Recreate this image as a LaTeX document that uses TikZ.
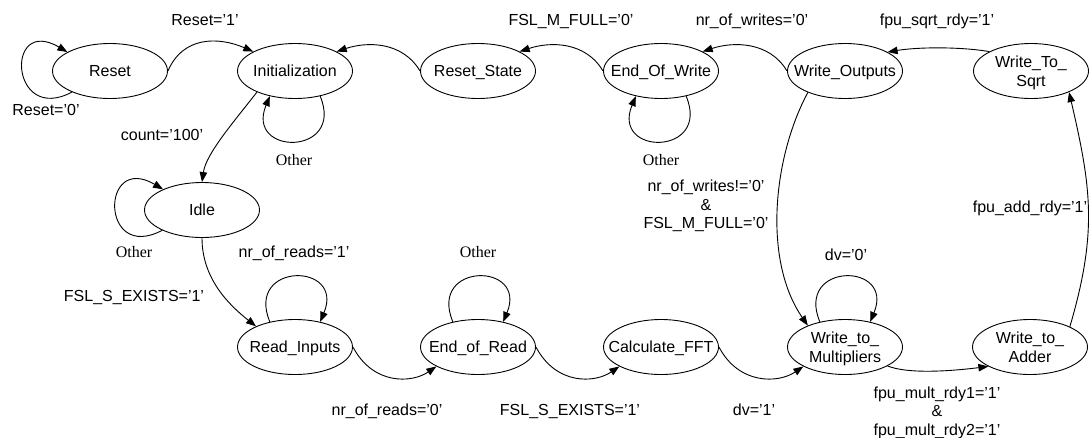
\documentclass[tikz,border=0pt]{standalone}
\usepackage{fontspec}
\setmainfont{Liberation Sans}
\newfontfamily\othfont{Liberation Serif}
\usetikzlibrary{shapes.geometric,arrows.meta}
\newcommand\stx[1]{\makebox[0pt]{\raisebox{-5.7pt}[0pt][0pt]{#1}}}
\newcommand\sttwo[2]{\makebox[0pt]{\raisebox{3.7pt}[0pt][0pt]{\begin{tabular}[t]{@{}c@{}}#1\\#2\end{tabular}}}}
\begin{document}
\begin{tikzpicture}[x=1pt,y=1pt,
  state/.style={draw, ellipse, minimum width=115pt, minimum height=55pt, inner sep=0pt, line width=0.9pt, font=\fontsize{16}{19}\selectfont},
  edge/.style={draw, line width=0.9pt, -{Triangle[length=10pt,width=7.5pt]}},
  lab/.style={anchor=base, inner sep=0pt, font=\fontsize{16}{18.5}\selectfont},
  oth/.style={anchor=base, inner sep=0pt, font=\fontsize{16}{18.5}\othfont}]
\useasboundingbox (0,0) rectangle (1091,-437);

% states
\node[state] (reset)  at (110,-71)  {\stx{Reset}};
\node[state] (init)   at (295,-71)  {\stx{Initialization}};
\node[state] (rstate) at (478,-71)  {\stx{Reset\_State}};
\node[state] (eow)    at (661,-71)  {\stx{End\_Of\_Write}};
\node[state] (wout)   at (845,-71)  {\stx{Write\_Outputs}};
\node[state] (wsqrt)  at (1031,-71) {\sttwo{Write\_To\_}{Sqrt}};
\node[state] (idle)   at (202,-210) {\stx{Idle}};
\node[state] (rin)    at (295,-347) {\stx{Read\_Inputs}};
\node[state] (eor)    at (478,-347) {\stx{End\_of\_Read}};
\node[state] (calc)   at (661,-347) {\stx{Calculate\_FFT}};
\node[state] (wmul)   at (845,-347) {\sttwo{Write\_to\_}{Multipliers}};
\node[state] (wadd)   at (1030,-347) {\sttwo{Write\_to\_}{Adder}};

% connectors
\path[edge] (reset.209) .. controls +(-62,-33) and +(-63,37) .. (reset.156);
\path[edge] (reset.east) .. controls +(15,35) and +(-35,15) .. (init.155);
\path[edge] (init.315) .. controls +(25,-60) and +(-25,-60) .. (init.225);
\path[edge] (init.209) .. controls +(-25,-32) and +(4,28) .. (idle.north);
\path[edge] (idle.207) .. controls +(-62,-33) and +(-63,37) .. (idle.152);
\path[edge] (idle.south) .. controls +(0,-40) and +(-28,22) .. (rin.152);
\path[edge] (rin.135) .. controls +(-25,60) and +(25,60) .. (rin.45);
\path[edge] (rin.east) .. controls +(20,-38) and +(-25,-17) .. (eor.205);
\path[edge] (eor.135) .. controls +(-25,60) and +(25,60) .. (eor.45);
\path[edge] (eor.east) .. controls +(20,-38) and +(-25,-17) .. (calc.205);
\path[edge] (calc.east) .. controls +(20,-38) and +(-25,-17) .. (wmul.205);
\path[edge] (wmul.135) .. controls +(-25,60) and +(25,60) .. (wmul.45);
\path[edge] (wmul.336) .. controls +(20,-8) and +(-40,-5) .. (wadd.205);
\path[edge] (wadd.27) .. controls +(28,95) and +(22,-95) .. (wsqrt.331);
\path[edge] (wsqrt.155) .. controls +(-30,5) and +(30,5) .. (wout.24);
\path[edge] (wout.west) .. controls +(-18,30) and +(30,10) .. (eow.25);
\path[edge] (eow.315) .. controls +(25,-60) and +(-25,-60) .. (eow.225);
\path[edge] (eow.west) .. controls +(-18,30) and +(30,10) .. (rstate.25);
\path[edge] (rstate.west) .. controls +(-18,30) and +(30,10) .. (init.25);
\path[edge] (wout.210) .. controls +(-35,-65) and +(-45,65) .. (wmul.150);

% labels
\node[lab] (l1) at (205,-25) {Reset='1'};
\node[lab] (l2) at (46,-115) {Reset='0'};
\node[lab] (l3) at (162,-140) {count='100'};
\node[oth] (l4) at (294,-165) {Other};
\node[lab] (l5) at (571,-25) {FSL\_M\_FULL='0'};
\node[lab] (l6) at (752,-25) {nr\_of\_writes='0'};
\node[lab] (l7) at (937,-25) {fpu\_sqrt\_rdy='1'};
\node[oth] (l8) at (661,-165) {Other};
\node[lab] (l9) at (706,-191.5) {\begin{tabular}[t]{@{}c@{}}nr\_of\_writes!='0'\\\&\\FSL\_M\_FULL='0'\end{tabular}};
\node[lab] (l10) at (1030,-212) {fpu\_add\_rdy='1'};
\node[lab] (l11) at (846,-260) {dv='0'};
\node[oth] (l12) at (134,-257) {Other};
\node[lab] (l13) at (294,-257) {nr\_of\_reads='1'};
\node[oth] (l14) at (478,-257) {Other};
\node[lab] (l15) at (134,-301) {FSL\_S\_EXISTS='1'};
\node[lab] (l16) at (387,-415) {nr\_of\_reads='0'};
\node[lab] (l17) at (570,-415) {FSL\_S\_EXISTS='1'};
\node[lab] (l18) at (754,-415) {dv='1'};
\node[lab] (l19) at (937,-398) {\begin{tabular}[t]{@{}c@{}}fpu\_mult\_rdy1='1'\\\&\\fpu\_mult\_rdy2='1'\end{tabular}};
\end{tikzpicture}
\end{document}
